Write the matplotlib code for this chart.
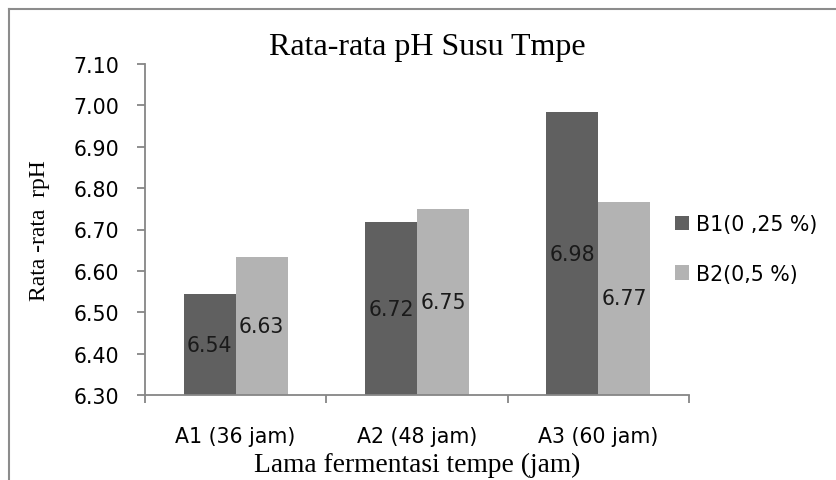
import matplotlib
matplotlib.use("Agg")
import matplotlib.pyplot as plt
from matplotlib.lines import Line2D
import numpy as np

categories = ["A1 (36 jam)", "A2 (48 jam)", "A3 (60 jam)"]
series_names = ["B1(0 ,25 %)", "B2(0,5 %)"]
b1_values = [6.543, 6.717, 6.983]
b2_values = [6.633, 6.750, 6.767]
yticks = [6.30, 6.40, 6.50, 6.60, 6.70, 6.80, 6.90, 7.00, 7.10]

colors = ["#606060", "#b3b3b3"]
sans = ["DejaVu Sans"]
serif = ["Liberation Serif", "DejaVu Serif"]
axis_color = "#868686"
fs = 14.8

fig = plt.figure(figsize=(8.37, 4.81), dpi=100)
ax = fig.add_axes([145/837, 1-396/481, (689-145)/837, (396-65)/481])

x = np.arange(len(categories))
w = 0.287
base = 6.30
for i, (vals, c) in enumerate(zip([b1_values, b2_values], colors)):
    pos = x + (i - 0.5) * w
    heights = [v - base for v in vals]
    ax.bar(pos, heights, width=w, bottom=base, color=c, label=series_names[i], zorder=2)
    for p, v in zip(pos, vals):
        ax.text(p, (base + v) / 2, f"{v:.2f}", ha="center", va="center",
                fontsize=fs, family=sans, color="#1a1a1a", zorder=3)

ax.set_xlim(-0.5, 2.5)
ax.set_ylim(6.30, 7.10)
ax.set_yticks(yticks)
ax.set_yticklabels([f"{t:.2f}" for t in yticks], family=sans, fontsize=fs)
ax.set_xticks([-0.5, 0.5, 1.5, 2.5])
ax.set_xticklabels([])
ax.set_xticks(x, minor=True)
ax.set_xticklabels(categories, minor=True, family=sans, fontsize=fs)
ax.tick_params(axis="x", which="major", length=5.5, color=axis_color, width=1.3, direction="out")
ax.tick_params(axis="x", which="minor", length=0, pad=22)
ax.tick_params(axis="y", length=5.5, color=axis_color, width=1.3, pad=13)

for s in ["top", "right"]:
    ax.spines[s].set_visible(False)
for s in ["left", "bottom"]:
    ax.spines[s].set_color(axis_color)
    ax.spines[s].set_linewidth(1.3)

ax.set_ylabel("Rata -rata  rpH", family=serif, fontsize=17, va="center", ha="center")
ax.yaxis.set_label_coords((40-145)/544, 0.5)
ax.set_xlabel("Lama fermentasi tempe (jam)", family=serif, fontsize=19.8, va="center", ha="center")
ax.xaxis.set_label_coords(0.5, (396-465)/331)

fig.text(427/837, 1-47/481, "Rata-rata pH Susu Tmpe", ha="center", va="center",
         family=serif, fontsize=23)

leg = fig.legend(loc="upper left", bbox_to_anchor=(675/837, 1-215/481), frameon=False,
                 prop={"family": sans, "size": fs}, handlelength=0.7, handleheight=0.7,
                 handletextpad=0.3, labelspacing=1.45, borderaxespad=0, borderpad=0)

# outer chart border (left and top visible)
fig.add_artist(Line2D([9/837, 9/837], [0, 1-10/481], transform=fig.transFigure,
                      color="#8c8c8c", lw=1.5))
fig.add_artist(Line2D([9/837, 1], [1-10/481, 1-10/481], transform=fig.transFigure,
                      color="#8c8c8c", lw=1.5))

fig.savefig("out.png", dpi=100)
